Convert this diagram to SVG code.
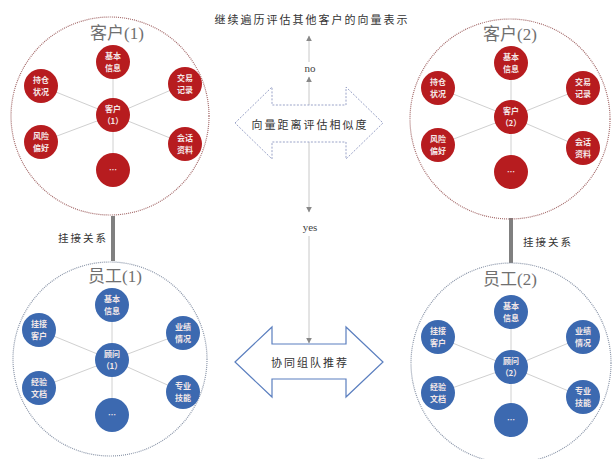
<svg xmlns="http://www.w3.org/2000/svg" width="615" height="459" viewBox="0 0 615 459">
<style>
.big-r{fill:none;stroke:#a46a6a;stroke-width:1.2;stroke-dasharray:1 1}
.big-b{fill:none;stroke:#8a95a8;stroke-width:1.2;stroke-dasharray:1 1}
.title{font-family:"Liberation Serif","Noto Sans CJK SC",serif;font-size:17px;fill:#707070;text-anchor:middle}
.spoke{stroke:#d0d0d0;stroke-width:1}
.nr{fill:#b71c1f}
.nb{fill:#3c69b0}
.nt{font-family:"Noto Sans CJK SC",sans-serif;font-size:8px;font-weight:bold;fill:#f4e8e8;text-anchor:middle}
.lbl{font-family:"Noto Sans CJK SC",sans-serif;font-size:10.5px;fill:#333;text-anchor:middle;letter-spacing:2px}
.yn{font-family:"Liberation Serif",serif;font-size:11px;fill:#444;text-anchor:middle}
.thin{stroke:#c8c8c8;stroke-width:1;fill:none}
.thick{stroke:#808080;stroke-width:4}
</style>
<defs>
<marker id="ah" viewBox="0 0 10 10" refX="9" refY="5" markerWidth="6" markerHeight="6" orient="auto-start-reverse" markerUnits="userSpaceOnUse">
<path d="M0,0 L10,5 L0,10 z" fill="#888"/>
</marker>
</defs>

<g id="connectors">
<line class="thick" x1="113" y1="216" x2="113" y2="261"/>
<line class="thick" x1="511" y1="218" x2="511" y2="263"/>
<line class="thin" x1="309" y1="105" x2="309" y2="77" marker-end="url(#ah)"/>
<line class="thin" x1="309" y1="62" x2="309" y2="36" marker-end="url(#ah)"/>
<line class="thin" x1="309" y1="142" x2="309" y2="212" marker-end="url(#ah)"/>
<line class="thin" x1="309" y1="236" x2="309" y2="343" marker-end="url(#ah)"/>
</g>
<g id="connector-labels">
<text class="lbl" x="83" y="242">挂接关系</text>
<text class="lbl" x="548" y="246">挂接关系</text>
<text class="yn" x="310" y="72">no</text>
<text class="yn" x="310" y="231">yes</text>
<text class="lbl" x="312" y="24" style="font-size:11px">继续遍历评估其他客户的向量表示</text>
</g>

<g id="similarity">
<path d="M235,123 L272,87 L272,105 L346,105 L346,87 L383,123 L346,159 L346,142 L272,142 L272,159 Z" fill="#fff" stroke="#9aa3c8" stroke-width="1" stroke-dasharray="2 1.5"/>
<text class="lbl" x="310" y="129" style="font-size:11px">向量距离评估相似度</text>
</g>

<g id="team">
<path d="M235,362 L272,327 L272,344 L346,344 L346,327 L383,362 L346,397 L346,379 L272,379 L272,397 Z" fill="#fff" stroke="#5b7fbf" stroke-width="1.2"/>
<text class="lbl" x="310" y="367" style="font-size:11px">协同组队推荐</text>
</g>

<g id="customer1">
<circle class="big-r" cx="110" cy="116" r="99"/>
<text class="title" x="117" y="39">客户(1)</text>
<g class="spoke">
<line x1="113" y1="115" x2="113" y2="62"/><line x1="113" y1="115" x2="41" y2="86"/><line x1="113" y1="115" x2="185" y2="84"/>
<line x1="113" y1="115" x2="41" y2="142"/><line x1="113" y1="115" x2="185" y2="144"/><line x1="113" y1="115" x2="113" y2="170"/>
</g>
<circle class="nr" cx="113" cy="62" r="17"/><text class="nt" x="113" y="59">基本</text><text class="nt" x="113" y="71">信息</text>
<circle class="nr" cx="41" cy="86" r="17"/><text class="nt" x="41" y="83">持仓</text><text class="nt" x="41" y="95">状况</text>
<circle class="nr" cx="185" cy="84" r="17"/><text class="nt" x="185" y="81">交易</text><text class="nt" x="185" y="93">记录</text>
<circle class="nr" cx="113" cy="115" r="17"/><text class="nt" x="113" y="112">客户</text><text class="nt" x="113" y="124">（1）</text>
<circle class="nr" cx="41" cy="142" r="17"/><text class="nt" x="41" y="139">风险</text><text class="nt" x="41" y="151">偏好</text>
<circle class="nr" cx="185" cy="144" r="17"/><text class="nt" x="185" y="141">会话</text><text class="nt" x="185" y="153">资料</text>
<circle class="nr" cx="113" cy="170" r="17"/><text class="nt" x="113" y="173">…</text>
</g>

<g id="customer2">
<circle class="big-r" cx="510" cy="119" r="100"/>
<text class="title" x="510" y="40">客户(2)</text>
<g class="spoke">
<line x1="511" y1="117" x2="511" y2="63"/><line x1="511" y1="117" x2="438" y2="88"/><line x1="511" y1="117" x2="583" y2="88"/>
<line x1="511" y1="117" x2="438" y2="145"/><line x1="511" y1="117" x2="583" y2="148"/><line x1="511" y1="117" x2="511" y2="172"/>
</g>
<circle class="nr" cx="511" cy="63" r="17"/><text class="nt" x="511" y="60">基本</text><text class="nt" x="511" y="72">信息</text>
<circle class="nr" cx="438" cy="88" r="17"/><text class="nt" x="438" y="85">持仓</text><text class="nt" x="438" y="97">状况</text>
<circle class="nr" cx="583" cy="88" r="17"/><text class="nt" x="583" y="85">交易</text><text class="nt" x="583" y="97">记录</text>
<circle class="nr" cx="511" cy="117" r="17"/><text class="nt" x="511" y="114">客户</text><text class="nt" x="511" y="126">（2）</text>
<circle class="nr" cx="438" cy="145" r="17"/><text class="nt" x="438" y="142">风险</text><text class="nt" x="438" y="154">偏好</text>
<circle class="nr" cx="583" cy="148" r="17"/><text class="nt" x="583" y="145">会话</text><text class="nt" x="583" y="157">资料</text>
<circle class="nr" cx="511" cy="172" r="17"/><text class="nt" x="511" y="175">…</text>
</g>

<g id="employee1">
<circle class="big-b" cx="110" cy="359" r="97"/>
<text class="title" x="115" y="282">员工(1)</text>
<g class="spoke">
<line x1="112" y1="360" x2="112" y2="305"/><line x1="112" y1="360" x2="39" y2="330"/><line x1="112" y1="360" x2="183" y2="333"/>
<line x1="112" y1="360" x2="39" y2="388"/><line x1="112" y1="360" x2="183" y2="392"/><line x1="112" y1="360" x2="112" y2="415"/>
</g>
<circle class="nb" cx="112" cy="305" r="17"/><text class="nt" x="112" y="302">基本</text><text class="nt" x="112" y="314">信息</text>
<circle class="nb" cx="39" cy="330" r="17"/><text class="nt" x="39" y="327">挂接</text><text class="nt" x="39" y="339">客户</text>
<circle class="nb" cx="183" cy="333" r="17"/><text class="nt" x="183" y="330">业绩</text><text class="nt" x="183" y="342">情况</text>
<circle class="nb" cx="112" cy="360" r="17"/><text class="nt" x="112" y="357">顾问</text><text class="nt" x="112" y="369">（1）</text>
<circle class="nb" cx="39" cy="388" r="17"/><text class="nt" x="39" y="385">经验</text><text class="nt" x="39" y="397">文档</text>
<circle class="nb" cx="183" cy="392" r="17"/><text class="nt" x="183" y="389">专业</text><text class="nt" x="183" y="401">技能</text>
<circle class="nb" cx="112" cy="415" r="17"/><text class="nt" x="112" y="418">…</text>
</g>

<g id="employee2">
<circle class="big-b" cx="511" cy="363" r="100"/>
<text class="title" x="510" y="285">员工(2)</text>
<g class="spoke">
<line x1="511" y1="367" x2="511" y2="312"/><line x1="511" y1="367" x2="438" y2="337"/><line x1="511" y1="367" x2="583" y2="337"/>
<line x1="511" y1="367" x2="438" y2="393"/><line x1="511" y1="367" x2="583" y2="397"/><line x1="511" y1="367" x2="511" y2="420"/>
</g>
<circle class="nb" cx="511" cy="312" r="17"/><text class="nt" x="511" y="309">基本</text><text class="nt" x="511" y="321">信息</text>
<circle class="nb" cx="438" cy="337" r="17"/><text class="nt" x="438" y="334">挂接</text><text class="nt" x="438" y="346">客户</text>
<circle class="nb" cx="583" cy="337" r="17"/><text class="nt" x="583" y="334">业绩</text><text class="nt" x="583" y="346">情况</text>
<circle class="nb" cx="511" cy="367" r="17"/><text class="nt" x="511" y="364">顾问</text><text class="nt" x="511" y="376">（2）</text>
<circle class="nb" cx="438" cy="393" r="17"/><text class="nt" x="438" y="390">经验</text><text class="nt" x="438" y="402">文档</text>
<circle class="nb" cx="583" cy="397" r="17"/><text class="nt" x="583" y="394">专业</text><text class="nt" x="583" y="406">技能</text>
<circle class="nb" cx="511" cy="420" r="17"/><text class="nt" x="511" y="423">…</text>
</g>
</svg>
